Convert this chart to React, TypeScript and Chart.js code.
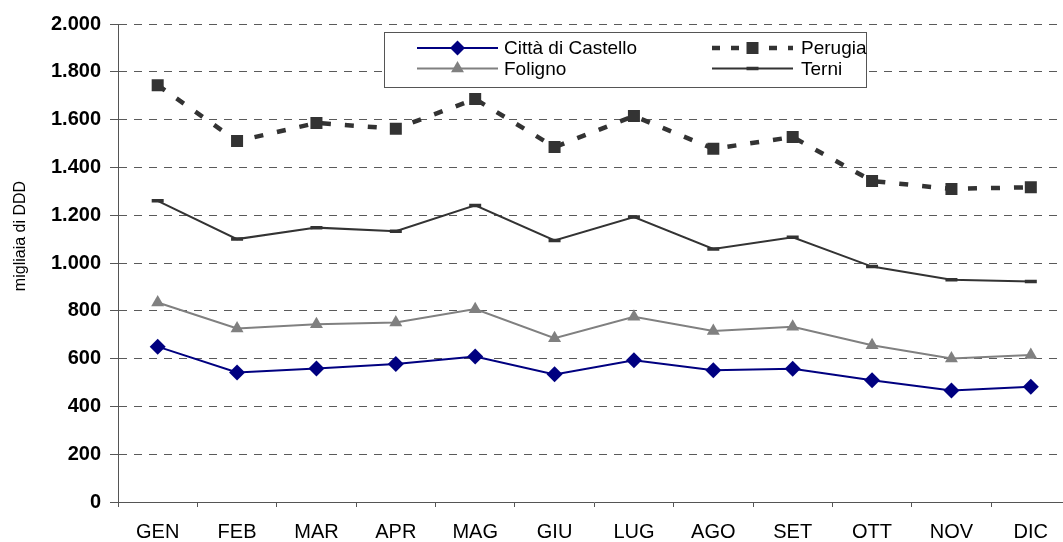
import React, { useEffect, useRef } from 'react';
import { Chart, registerables } from 'chart.js';

Chart.register(...registerables);

// ---- data ----
const months = ['GEN', 'FEB', 'MAR', 'APR', 'MAG', 'GIU', 'LUG', 'AGO', 'SET', 'OTT', 'NOV', 'DIC'];
const cittaDiCastello = [650, 542, 559, 577, 609, 534, 593, 551, 558, 509, 467, 482];
const perugia = [1744, 1510, 1586, 1562, 1686, 1485, 1615, 1478, 1527, 1343, 1310, 1317];
const foligno = [835, 726, 744, 751, 807, 685, 775, 716, 733, 656, 600, 615];
const terni = [1260, 1100, 1148, 1133, 1241, 1094, 1192, 1059, 1108, 985, 930, 923];
const yMin = 0;
const yMax = 2000;
const yStep = 200;
const yAxisTitle = 'migliaia di DDD';
const seriesNames = ['Città di Castello', 'Perugia', 'Foligno', 'Terni'];

const FONT = '"Liberation Sans", Arial, Helvetica, sans-serif';
const NAVY = '#000080';
const GREY = '#808080';
const DARK = '#333333';

const fmt = (v: number) => String(v).replace(/\B(?=(\d{3})+(?!\d))/g, '.');

type LegendItem = { label: string; color: string; marker: string; dash: number[]; width: number; col: number; row: number };

const legendItems: LegendItem[] = [
  { label: seriesNames[0], color: NAVY, marker: 'diamond', dash: [], width: 2, col: 0, row: 0 },
  { label: seriesNames[1], color: DARK, marker: 'square', dash: [8, 11], width: 4.5, col: 1, row: 0 },
  { label: seriesNames[2], color: GREY, marker: 'triangle', dash: [], width: 2, col: 0, row: 1 },
  { label: seriesNames[3], color: DARK, marker: 'dash', dash: [], width: 2, col: 1, row: 1 },
];

function drawMarker(ctx: CanvasRenderingContext2D, kind: string, x: number, y: number, color: string) {
  ctx.save();
  ctx.fillStyle = color;
  ctx.strokeStyle = color;
  ctx.setLineDash([]);
  ctx.beginPath();
  if (kind === 'diamond') {
    const r = 7.5;
    ctx.moveTo(x - r, y);
    ctx.lineTo(x, y - r);
    ctx.lineTo(x + r, y);
    ctx.lineTo(x, y + r);
    ctx.closePath();
    ctx.fill();
  } else if (kind === 'square') {
    const h = 6;
    ctx.rect(x - h, y - h, 2 * h, 2 * h);
    ctx.fill();
  } else if (kind === 'triangle') {
    const r = 7.5;
    const s = Math.sin(Math.PI / 3) * r;
    ctx.moveTo(x - s, y + r / 2);
    ctx.lineTo(x, y - r);
    ctx.lineTo(x + s, y + r / 2);
    ctx.closePath();
    ctx.fill();
  } else if (kind === 'dash') {
    ctx.lineWidth = 3.5;
    ctx.moveTo(x - 6, y);
    ctx.lineTo(x + 6, y);
    ctx.stroke();
  }
  ctx.restore();
}

const decorPlugin = {
  id: 'decor',
  afterDraw(chart: any) {
    const ctx: CanvasRenderingContext2D = chart.ctx;
    ctx.save();
    // axis title
    ctx.save();
    ctx.translate(21, 236);
    ctx.rotate(-Math.PI / 2);
    ctx.fillStyle = '#000';
    ctx.font = `16px ${FONT}`;
    ctx.textAlign = 'center';
    ctx.textBaseline = 'middle';
    ctx.fillText(yAxisTitle, 0, 0);
    ctx.restore();

    // legend box
    const bx = 384.5, by = 32.5, bw = 482, bh = 55;
    ctx.fillStyle = '#ffffff';
    ctx.fillRect(bx, by, bw, bh);
    ctx.strokeStyle = '#555555';
    ctx.lineWidth = 1;
    ctx.setLineDash([]);
    ctx.strokeRect(bx, by, bw, bh);

    const cols = [
      { x1: 417, x2: 498, tx: 504 },
      { x1: 712, x2: 793, tx: 801 },
    ];
    const rows = [48, 68.5];
    legendItems.forEach((it) => {
      const c = cols[it.col];
      const y = rows[it.row];
      ctx.save();
      ctx.strokeStyle = it.color;
      ctx.lineWidth = it.width;
      ctx.lineCap = 'butt';
      ctx.setLineDash(it.dash);
      ctx.beginPath();
      ctx.moveTo(c.x1, y);
      ctx.lineTo(c.x2, y);
      ctx.stroke();
      ctx.restore();
      drawMarker(ctx, it.marker, (c.x1 + c.x2) / 2, y, it.color);
      ctx.fillStyle = '#000';
      ctx.font = `19px ${FONT}`;
      ctx.textAlign = 'left';
      ctx.textBaseline = 'middle';
      ctx.fillText(it.label, c.tx, y + 1);
    });
    ctx.restore();
  },
};

export default function App() {
  const ref = useRef<HTMLCanvasElement | null>(null);

  useEffect(() => {
    if (!ref.current) return;
    const chart = new Chart(ref.current, {
      type: 'line',
      data: {
        labels: months,
        datasets: [
          {
            label: seriesNames[1],
            data: perugia,
            borderColor: DARK,
            backgroundColor: DARK,
            borderWidth: 4.5,
            borderDash: [9, 14],
            borderCapStyle: 'butt',
            pointStyle: 'rect',
            pointRadius: 8.5,
            pointBorderWidth: 0,
            pointBackgroundColor: DARK,
            tension: 0,
          },
          {
            label: seriesNames[3],
            data: terni,
            borderColor: DARK,
            backgroundColor: DARK,
            borderWidth: 2,
            pointStyle: 'line',
            pointRadius: 6,
            pointBorderWidth: 3.5,
            pointBorderColor: DARK,
            tension: 0,
          },
          {
            label: seriesNames[2],
            data: foligno,
            borderColor: GREY,
            backgroundColor: GREY,
            borderWidth: 2,
            pointStyle: 'triangle',
            pointRadius: 7.5,
            pointBorderWidth: 0,
            pointBackgroundColor: GREY,
            tension: 0,
          },
          {
            label: seriesNames[0],
            data: cittaDiCastello,
            borderColor: NAVY,
            backgroundColor: NAVY,
            borderWidth: 2,
            pointStyle: 'rectRot',
            pointRadius: 8,
            pointBorderWidth: 0,
            pointBackgroundColor: NAVY,
            tension: 0,
          },
        ],
      },
      options: {
        responsive: false,
        animation: false,
        devicePixelRatio: 1,
        layout: { padding: { left: 0, right: 9, top: 24, bottom: 0 } },
        plugins: {
          legend: { display: false },
          tooltip: { enabled: false },
        },
        scales: {
          x: {
            type: 'category',
            offset: true,
            grid: {
              offset: true,
              drawOnChartArea: false,
              drawTicks: true,
              tickLength: 5,
              color: '#555555',
              tickColor: '#555555',
            },
            border: { display: true, color: '#555555', width: 1 },
            ticks: {
              color: '#000',
              font: { family: FONT, size: 20 },
              padding: 13,
              maxRotation: 0,
              autoSkip: false,
            },
            afterFit: (scale: any) => {
              scale.height = 40;
            },
          },
          y: {
            min: yMin,
            max: yMax,
            grid: {
              color: '#5a5a5a',
              lineWidth: 1,
              drawTicks: true,
              tickLength: 8,
              tickColor: '#555555',
              tickBorderDash: [],
            },
            border: { display: true, color: '#555555', width: 1, dash: [8, 7] },
            ticks: {
              stepSize: yStep,
              color: '#000',
              font: { family: FONT, size: 20, weight: 'bold' },
              padding: 9,
              callback: (v: any) => fmt(Number(v)),
            },
            afterFit: (scale: any) => {
              scale.width = 118;
            },
          },
        },
      },
      plugins: [decorPlugin],
    } as any);
    return () => chart.destroy();
  }, []);

  return (
    <div style={{ position: 'fixed', left: 0, top: 0, width: 1063, height: 542, overflow: 'hidden', background: '#fff' }}>
      <canvas ref={ref} width={1080} height={542} style={{ display: 'block' }} />
    </div>
  );
}
